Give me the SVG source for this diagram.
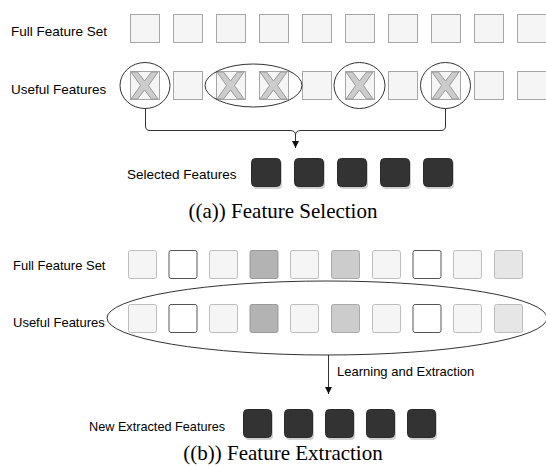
<svg xmlns="http://www.w3.org/2000/svg" width="546" height="467" viewBox="0 0 546 467">
<defs>
<style>
.lbl{font-family:"Liberation Sans",Arial,sans-serif;font-size:13px;fill:#000}
.lbla{font-family:"Liberation Sans",Arial,sans-serif;font-size:13.5px;fill:#000}
.cap{font-family:"Liberation Serif","Times New Roman",serif;font-size:21px;fill:#000}
.sq{fill:#f5f5f5;stroke:#a6a6a6;stroke-width:1}
.x{fill:#cccccc;stroke:#9a9a9a;stroke-width:1;stroke-linejoin:miter}
.ring{fill:none;stroke:#333;stroke-width:1}
.dk{fill:#333;stroke:#2a2a2a;stroke-width:1}
.sh{fill:#b0b0b0;opacity:0.6}
.ln{fill:none;stroke:#333;stroke-width:1}
.b0{fill:#f5f5f5;stroke:#bdbdbd;stroke-width:1}
.b1{fill:#ffffff;stroke:#555;stroke-width:1}
.b3{fill:#b3b3b3;stroke:#999;stroke-width:1}
.b5{fill:#cccccc;stroke:#aaa;stroke-width:1}
.b9{fill:#e6e6e6;stroke:#bbb;stroke-width:1}
</style>
<marker id="ah" viewBox="0 0 10 10" refX="10" refY="5" markerWidth="7" markerHeight="7" orient="auto" markerUnits="userSpaceOnUse">
<path d="M0,0 L10,5 L0,10 Z" fill="#111"/>
</marker>
<polygon id="xs" class="x" points="1,1 7.5,1 14.5,10 21.5,1 28,1 18.5,14.5 28,28 21.5,28 14.5,19 7.5,28 1,28 10.5,14.5"/>
</defs>

<!-- (a) Feature Selection -->
<g id="a-labels">
<text class="lbla" x="11" y="36">Full Feature Set</text>
<text class="lbla" x="11" y="94">Useful Features</text>
<text class="lbla" x="127" y="179">Selected Features</text>
<text class="cap" x="283" y="218" text-anchor="middle">((a)) Feature Selection</text>
</g>

<g id="a-full-set">
<rect class="sq" x="130.5" y="14.5" width="29" height="28"/>
<rect class="sq" x="173.5" y="14.5" width="29" height="28"/>
<rect class="sq" x="216.5" y="14.5" width="29" height="28"/>
<rect class="sq" x="259.5" y="14.5" width="29" height="28"/>
<rect class="sq" x="302.5" y="14.5" width="29" height="28"/>
<rect class="sq" x="345.5" y="14.5" width="29" height="28"/>
<rect class="sq" x="388.5" y="14.5" width="29" height="28"/>
<rect class="sq" x="431.5" y="14.5" width="29" height="28"/>
<rect class="sq" x="474.5" y="14.5" width="29" height="28"/>
<rect class="sq" x="517.5" y="14.5" width="29" height="28"/>
</g>

<g id="a-useful">
<rect class="sq" x="130.5" y="71.5" width="29" height="28"/>
<rect class="sq" x="173.5" y="71.5" width="29" height="28"/>
<rect class="sq" x="216.5" y="71.5" width="29" height="28"/>
<rect class="sq" x="259.5" y="71.5" width="29" height="28"/>
<rect class="sq" x="302.5" y="71.5" width="29" height="28"/>
<rect class="sq" x="345.5" y="71.5" width="29" height="28"/>
<rect class="sq" x="388.5" y="71.5" width="29" height="28"/>
<rect class="sq" x="431.5" y="71.5" width="29" height="28"/>
<rect class="sq" x="474.5" y="71.5" width="29" height="28"/>
<rect class="sq" x="517.5" y="71.5" width="29" height="28"/>
<use href="#xs" x="130" y="71"/>
<use href="#xs" x="216" y="71"/>
<use href="#xs" x="259" y="71"/>
<use href="#xs" x="345" y="71"/>
<use href="#xs" x="431" y="71"/>
</g>

<g id="a-groups">
<ellipse class="ring" cx="145" cy="85.5" rx="25" ry="23"/>
<ellipse class="ring" cx="253.5" cy="85.5" rx="48.5" ry="21.5"/>
<ellipse class="ring" cx="359.5" cy="85.5" rx="25.5" ry="23"/>
<ellipse class="ring" cx="445.5" cy="85.5" rx="25" ry="23"/>
</g>

<g id="a-connectors">
<path class="ln" d="M145.5,108.5 V126 Q145.5,130.5 150,130.5 H290 Q295.5,130.5 295.5,135 V148" marker-end="url(#ah)"/>
<path class="ln" d="M445.5,108.5 V126 Q445.5,130.5 441,130.5 H301 Q295.5,130.5 295.5,135"/>
</g>

<g id="a-selected">
<rect class="sh" x="253" y="160" width="29" height="29" rx="4"/>
<rect class="sh" x="296" y="160" width="29" height="29" rx="4"/>
<rect class="sh" x="339" y="160" width="29" height="29" rx="4"/>
<rect class="sh" x="382" y="160" width="29" height="29" rx="4"/>
<rect class="sh" x="425" y="160" width="29" height="29" rx="4"/>
<rect class="dk" x="251.5" y="158.5" width="29" height="28" rx="4"/>
<rect class="dk" x="294.5" y="158.5" width="29" height="28" rx="4"/>
<rect class="dk" x="337.5" y="158.5" width="29" height="28" rx="4"/>
<rect class="dk" x="380.5" y="158.5" width="29" height="28" rx="4"/>
<rect class="dk" x="423.5" y="158.5" width="29" height="28" rx="4"/>
</g>

<!-- (b) Feature Extraction -->
<g id="b-labels">
<text class="lbl" x="13" y="270">Full Feature Set</text>
<text class="lbl" x="13" y="327">Useful Features</text>
<text class="lbl" x="337" y="376">Learning and Extraction</text>
<text class="lbl" x="89" y="431" style="font-size:12.7px">New Extracted Features</text>
<text class="cap" x="283" y="460" text-anchor="middle">((b)) Feature Extraction</text>
</g>

<g id="b-full-set">
<rect class="b0" x="128.5" y="250.5" width="28" height="28" rx="2"/>
<rect class="b1" x="169" y="250.5" width="28" height="28" rx="2"/>
<rect class="b0" x="209.5" y="250.5" width="28" height="28" rx="2"/>
<rect class="b3" x="250" y="250.5" width="28" height="28" rx="2"/>
<rect class="b0" x="290.5" y="250.5" width="28" height="28" rx="2"/>
<rect class="b5" x="331.5" y="250.5" width="28" height="28" rx="2"/>
<rect class="b0" x="372.5" y="250.5" width="28" height="28" rx="2"/>
<rect class="b1" x="413" y="250.5" width="28" height="28" rx="2"/>
<rect class="b0" x="453.5" y="250.5" width="28" height="28" rx="2"/>
<rect class="b9" x="494.5" y="250.5" width="28" height="28" rx="2"/>
</g>

<g id="b-useful">
<rect class="b0" x="128.5" y="304.5" width="28" height="28" rx="2"/>
<rect class="b1" x="169" y="304.5" width="28" height="28" rx="2"/>
<rect class="b0" x="209.5" y="304.5" width="28" height="28" rx="2"/>
<rect class="b3" x="250" y="304.5" width="28" height="28" rx="2"/>
<rect class="b0" x="290.5" y="304.5" width="28" height="28" rx="2"/>
<rect class="b5" x="331.5" y="304.5" width="28" height="28" rx="2"/>
<rect class="b0" x="372.5" y="304.5" width="28" height="28" rx="2"/>
<rect class="b1" x="413" y="304.5" width="28" height="28" rx="2"/>
<rect class="b0" x="453.5" y="304.5" width="28" height="28" rx="2"/>
<rect class="b9" x="494.5" y="304.5" width="28" height="28" rx="2"/>
</g>

<g id="b-group">
<ellipse class="ring" cx="327" cy="318" rx="220" ry="37"/>
</g>

<g id="b-connectors">
<path class="ln" d="M328.5,355 V394" marker-end="url(#ah)"/>
</g>

<g id="b-extracted">
<rect class="sh" x="245" y="411" width="28" height="29" rx="4"/>
<rect class="sh" x="286" y="411" width="28" height="29" rx="4"/>
<rect class="sh" x="327" y="411" width="28" height="29" rx="4"/>
<rect class="sh" x="368" y="411" width="28" height="29" rx="4"/>
<rect class="sh" x="409" y="411" width="28" height="29" rx="4"/>
<rect class="dk" x="243.5" y="409.5" width="28" height="28" rx="4"/>
<rect class="dk" x="284.5" y="409.5" width="28" height="28" rx="4"/>
<rect class="dk" x="325.5" y="409.5" width="28" height="28" rx="4"/>
<rect class="dk" x="366.5" y="409.5" width="28" height="28" rx="4"/>
<rect class="dk" x="407.5" y="409.5" width="28" height="28" rx="4"/>
</g>
</svg>
